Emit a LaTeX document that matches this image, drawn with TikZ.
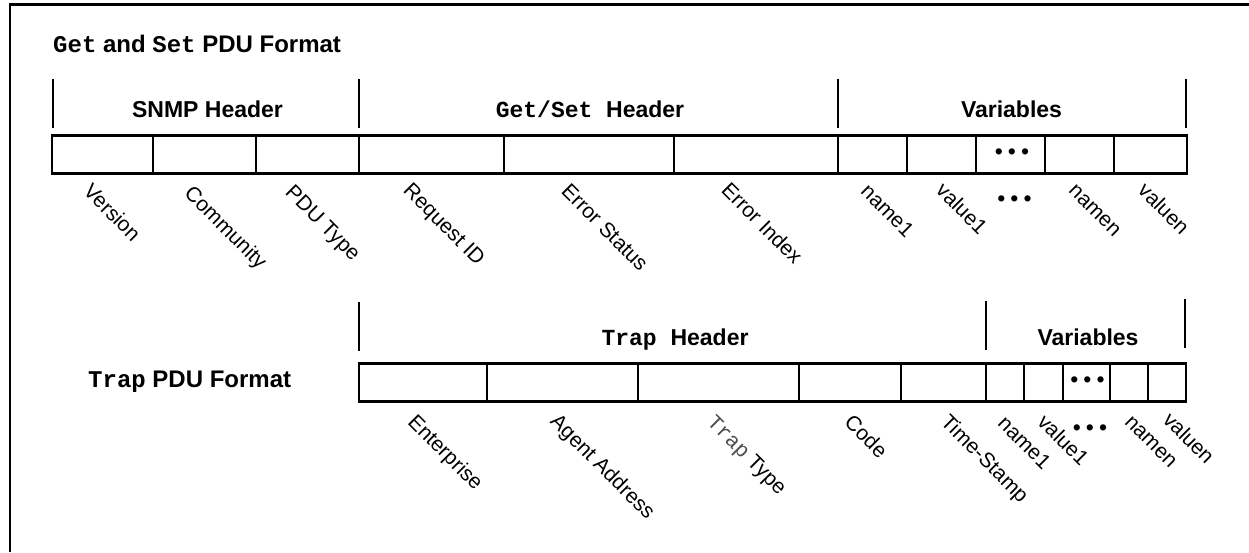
\documentclass[tikz,border=0pt]{standalone}
\usepackage{fontspec}
\setmainfont{Liberation Sans}
\newfontfamily\codefont{Liberation Mono}

% one field of a PDU: name, left x, right x, centre y, contents
\newcommand\pdufield[5]{%
  \node[field, minimum width={(#3)-(#2)}] (#1) at ({((#2)+(#3))/2},#4) {#5};}

\begin{document}
\begin{tikzpicture}[x=1pt,y=-1pt,
  field/.style={draw, rectangle, line width=2.4pt, inner sep=0pt,
                minimum height=38, font=\fontsize{23}{26}\selectfont},
  hdr/.style={font=\fontsize{23}{27}\selectfont\bfseries, anchor=base, inner sep=0pt},
  ttl/.style={font=\fontsize{24}{28}\selectfont\bfseries, anchor=base west, inner sep=0pt},
  fname/.style={font=\fontsize{21}{24}\selectfont, rotate=-45, anchor=north west,
                inner sep=0pt, text height=15pt, text depth=4.4pt},
  dotsnode/.style={font=\fontsize{23}{26}\selectfont, inner sep=0pt},
  tick/.style={line width=2pt},
  frame/.style={line width=2.6pt}]
\useasboundingbox (0,0) rectangle (1249,552);

% outer frame (top and left edges)
\draw[frame] (10,552) -- (10,4.5) -- (1249,4.5);

% ---------- Get / Set PDU ----------
\node[ttl] (titleGS) at (53,52) {{\codefont Get} and {\codefont Set} PDU Format};

\draw[tick] (53,79) -- (53,128);
\draw[tick] (359,79) -- (359,128);
\draw[tick] (838,79) -- (838,128);
\draw[tick] (1186,79) -- (1186,128);

\node[hdr] (hSNMP) at (207.5,117.5) {SNMP Header};
\node[hdr] (hGS) at (590,117.5) {{\codefont Get/Set }Header};
\node[hdr] (hVar1) at (1011.5,117.5) {Variables};

\pdufield{fVersion}{52}{153}{154.5}{}
\pdufield{fCommunity}{153}{256}{154.5}{}
\pdufield{fPduType}{256}{359}{154.5}{}
\pdufield{fReqId}{359}{504}{154.5}{}
\pdufield{fErrStatus}{504}{674}{154.5}{}
\pdufield{fErrIndex}{674}{838}{154.5}{}
\pdufield{fName1}{838}{907}{154.5}{}
\pdufield{fValue1}{907}{976}{154.5}{}
\pdufield{fMore}{976}{1045}{154.5}{\hspace{3pt}•\hspace{5pt}•\hspace{5pt}•}
\pdufield{fNameN}{1045}{1114}{154.5}{}
\pdufield{fValueN}{1114}{1187}{154.5}{}

\node[fname] (lVersion) at (93,182) {Version};
\node[fname] (lCommunity) at (194,184) {Community};
\node[fname] (lPduType) at (295,183) {PDU Type};
\node[fname] (lReqId) at (413,181) {Request ID};
\node[fname] (lErrStatus) at (571,182) {Error Status};
\node[fname] (lErrIndex) at (731,181) {Error Index};
\node[fname] (lName1) at (870.5,182) {name1};
\node[fname] (lValue1) at (945.5,181) {value1};
\node[dotsnode] (lMore) at (1014.5,201) {•\hspace{5pt}•\hspace{5pt}•};
\node[fname] (lNameN) at (1078.5,181) {namen};
\node[fname] (lValueN) at (1147.5,181) {valuen};

% ---------- Trap PDU ----------
\node[ttl] (titleTrap) at (88,387) {{\codefont Trap} PDU Format};

\draw[tick] (359,302) -- (359,351);
\draw[tick] (986,301) -- (986,350);
\draw[tick] (1185,299) -- (1185,348);

\node[hdr] (hTrap) at (675,345) {{\codefont Trap }Header};
\node[hdr] (hVar2) at (1088,345) {Variables};

\pdufield{tEnterprise}{359}{487}{382.5}{}
\pdufield{tAgentAddr}{487}{638}{382.5}{}
\pdufield{tTrapType}{638}{799}{382.5}{}
\pdufield{tCode}{799}{901}{382.5}{}
\pdufield{tTimeStamp}{901}{986}{382.5}{}
\pdufield{tName1}{986}{1024}{382.5}{}
\pdufield{tValue1}{1024}{1063}{382.5}{}
\pdufield{tMore}{1063}{1110}{382.5}{\hspace{2pt}•\hspace{5pt}•\hspace{5pt}•}
\pdufield{tNameN}{1110}{1148}{382.5}{}
\pdufield{tValueN}{1148}{1186}{382.5}{}

\node[fname] (mEnterprise) at (417.5,412.5) {Enterprise};
\node[fname] (mAgentAddr) at (560,412) {Agent Address};
\node[fname] (mTrapType) at (717,413) {{\codefont\color{black!70}Trap} Type};
\node[fname] (mCode) at (854,413) {Code};
\node[fname] (mTimeStamp) at (950.5,412.5) {Time-Stamp};
\node[fname] (mName1) at (1007.5,414) {name1};
\node[fname] (mValue1) at (1047,412.5) {value1};
\node[dotsnode] (mMore) at (1090,430) {•\hspace{5pt}•\hspace{5pt}•};
\node[fname] (mNameN) at (1134.5,412.5) {namen};
\node[fname] (mValueN) at (1172.5,410.5) {valuen};
\end{tikzpicture}
\end{document}
